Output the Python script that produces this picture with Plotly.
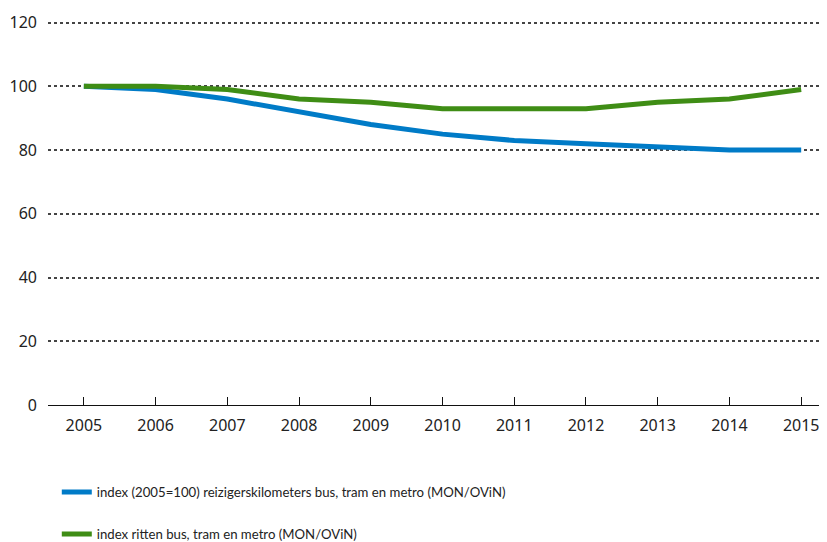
import plotly.graph_objects as go

years = [2005, 2006, 2007, 2008, 2009, 2010, 2011, 2012, 2013, 2014, 2015]
reizigerskm = [100, 99, 96, 92, 88, 85, 83, 82, 81, 80, 80]
ritten = [100, 100, 99, 96, 95, 93, 93, 93, 95, 96, 99]
y_ticks = [0, 20, 40, 60, 80, 100, 120]

name_km = "index (2005=100) reizigerskilometers bus, tram en metro (MON/OViN)"
name_ritten = "index ritten bus, tram en metro (MON/OViN)"

FONT = "Noto Sans, Open Sans, sans-serif"
LEGEND_FONT = "Lato, Noto Sans, sans-serif"

fig = go.Figure()
fig.add_trace(go.Scatter(x=years, y=reizigerskm, mode="lines", name=name_km,
                         line=dict(color="#007BC7", width=5), legendgroup="a"))
fig.add_trace(go.Scatter(x=years, y=ritten, mode="lines", name=name_ritten,
                         line=dict(color="#3F8D15", width=5), legendgroup="b"))

fig.update_layout(
    width=827, height=542,
    margin=dict(l=40, r=8, t=13, b=145, autoexpand=False),
    paper_bgcolor="white", plot_bgcolor="white",
    font=dict(family=FONT, size=16, color="#222222"),
    showlegend=True,
    legend=dict(xref="container", yref="container", x=0.059, y=0.135,
                xanchor="left", yanchor="top", tracegroupgap=22,
                font=dict(family=LEGEND_FONT, size=13.2, color="#222222"),
                bgcolor="rgba(0,0,0,0)"),
    xaxis=dict(range=[2004.5, 2015.36], tickmode="array", tickvals=years,
               ticktext=[str(y) for y in years], showgrid=False, zeroline=False,
               showline=True, linecolor="#111111", linewidth=1,
               ticks="inside", ticklen=8, tickcolor="#111111", tickwidth=1,
               tickangle=0, ticklabelstandoff=6, fixedrange=True),
    yaxis=dict(range=[0, 120.5], tickmode="array", tickvals=y_ticks,
               showgrid=True, gridcolor="#444444", gridwidth=2, griddash="dot",
               zeroline=False, showline=False, ticks="", ticklabelstandoff=10,
               fixedrange=True),
)

fig.write_html("out.html")
